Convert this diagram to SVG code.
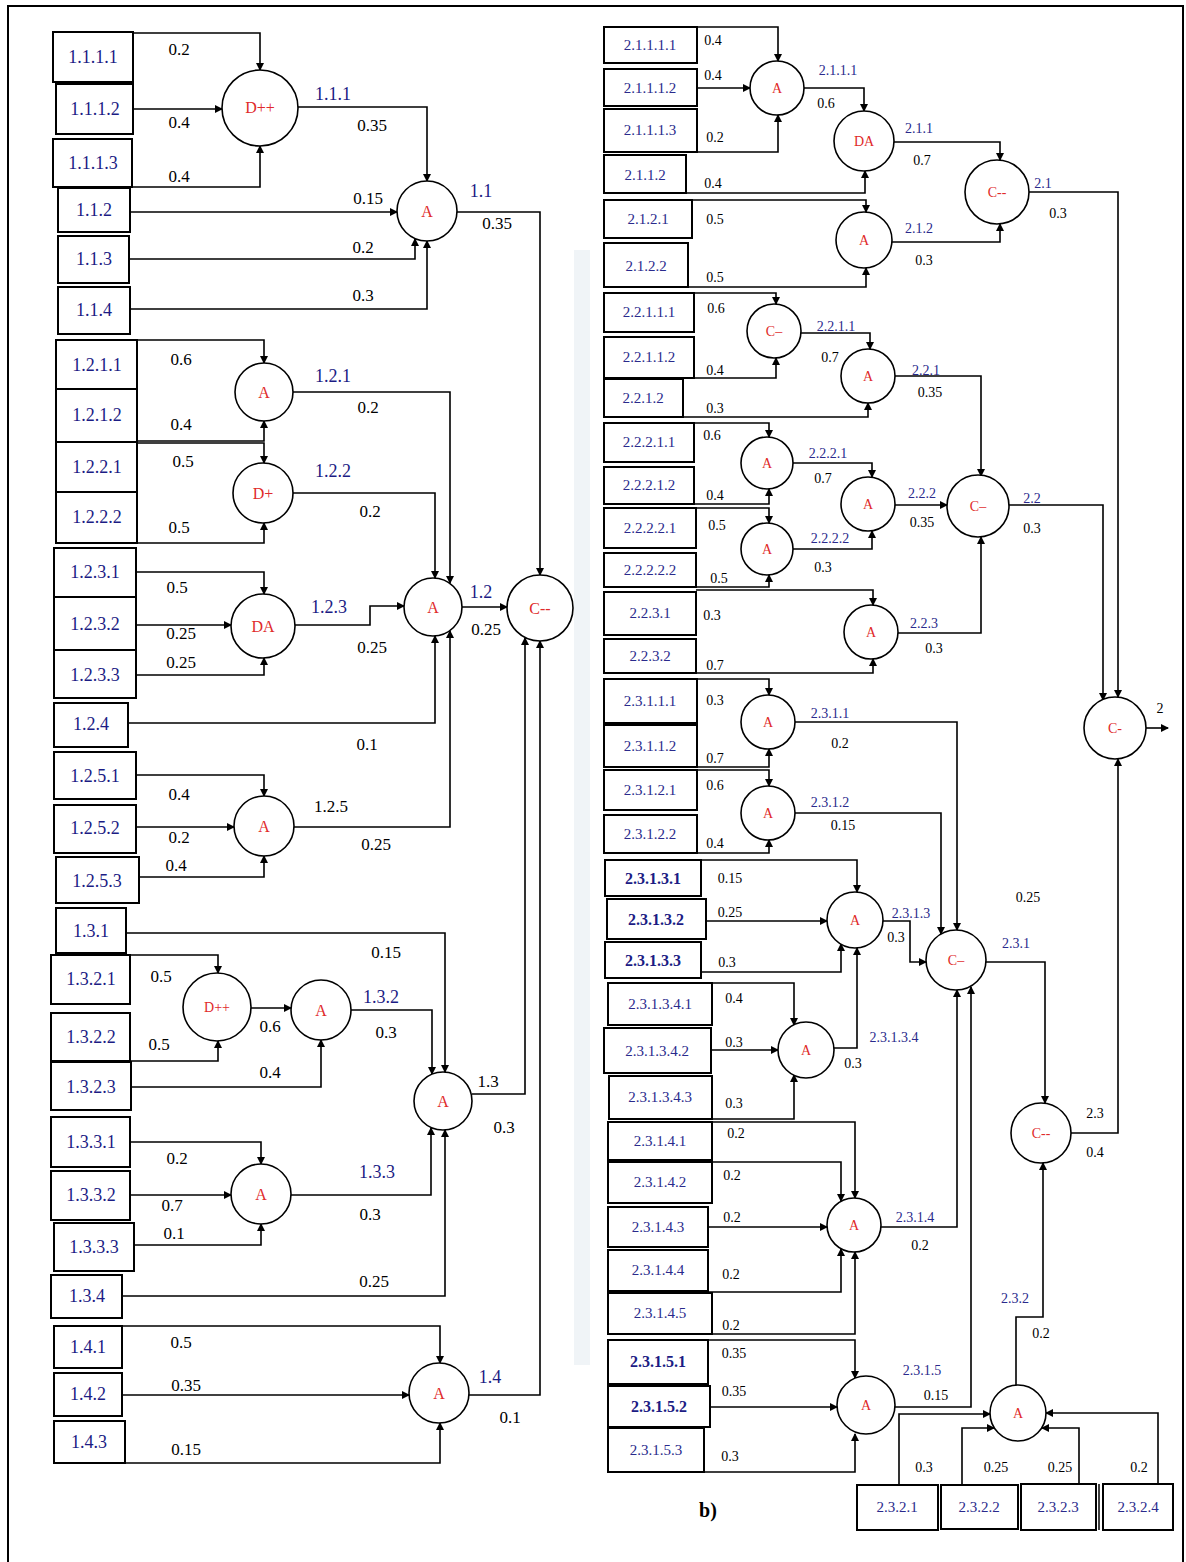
<svg xmlns="http://www.w3.org/2000/svg" width="1186" height="1562" viewBox="0 0 1186 1562">
<defs>
<marker id="ah" markerWidth="8" markerHeight="8" refX="7" refY="4" orient="auto" markerUnits="userSpaceOnUse"><path d="M0,0 L8,4 L0,8 z" fill="#000"/></marker>
<style>
.box{fill:#fff;stroke:#000;stroke-width:2}
.op{fill:#fff;stroke:#000;stroke-width:1.6}
.bt{font-family:"Liberation Serif",serif;font-size:18px;fill:#1c1c84;text-anchor:middle}
.bs{font-family:"Liberation Serif",serif;font-size:15px;fill:#2a2a8c;text-anchor:middle}
.bb{font-family:"Liberation Serif",serif;font-size:16px;fill:#1c1c84;text-anchor:middle;font-weight:bold}
.ot{font-family:"Liberation Serif",serif;font-size:16px;fill:#e02a2a;text-anchor:middle}
.os{font-family:"Liberation Serif",serif;font-size:14px;fill:#e02a2a;text-anchor:middle}
.w{font-family:"Liberation Serif",serif;font-size:17px;fill:#000;text-anchor:middle}
.ws{font-family:"Liberation Serif",serif;font-size:14px;fill:#000;text-anchor:middle}
.o{font-family:"Liberation Serif",serif;font-size:18px;fill:#1c1c84;text-anchor:middle}
.os2{font-family:"Liberation Serif",serif;font-size:14px;fill:#2a2a8c;text-anchor:middle}
.c{fill:none;stroke:#000;stroke-width:1.6;marker-end:url(#ah)}
</style>
</defs>
<rect x="0" y="0" width="1186" height="1562" fill="#fff"/>
<path d="M8,1562 V6 H1183 V1562" fill="none" stroke="#000" stroke-width="2"/>
<rect x="574" y="250" width="16" height="1115" fill="#e6ecf2" opacity="0.6"/>

<!-- LEFT boxes -->
<g id="b1111"><rect class="box" x="53" y="32" width="80" height="50"/><text class="bt" x="93" y="63">1.1.1.1</text></g>
<g id="b1112"><rect class="box" x="56" y="84" width="77" height="50"/><text class="bt" x="95" y="115">1.1.1.2</text></g>
<g id="b1113"><rect class="box" x="53" y="139" width="79" height="48"/><text class="bt" x="93" y="169">1.1.1.3</text></g>
<g id="b112"><rect class="box" x="58" y="188" width="72" height="44"/><text class="bt" x="94" y="216">1.1.2</text></g>
<g id="b113"><rect class="box" x="58" y="236" width="71" height="47"/><text class="bt" x="94" y="265">1.1.3</text></g>
<g id="b114"><rect class="box" x="58" y="287" width="72" height="47"/><text class="bt" x="94" y="316">1.1.4</text></g>
<g id="b1211"><rect class="box" x="56" y="340" width="81" height="49"/><text class="bt" x="97" y="371">1.2.1.1</text></g>
<g id="b1212"><rect class="box" x="56" y="389" width="81" height="53"/><text class="bt" x="97" y="421">1.2.1.2</text></g>
<g id="b1221"><rect class="box" x="56" y="442" width="81" height="50"/><text class="bt" x="97" y="473">1.2.2.1</text></g>
<g id="b1222"><rect class="box" x="56" y="492" width="81" height="51"/><text class="bt" x="97" y="523">1.2.2.2</text></g>
<g id="b1231"><rect class="box" x="54" y="548" width="82" height="49"/><text class="bt" x="95" y="578">1.2.3.1</text></g>
<g id="b1232"><rect class="box" x="54" y="597" width="82" height="53"/><text class="bt" x="95" y="630">1.2.3.2</text></g>
<g id="b1233"><rect class="box" x="54" y="650" width="82" height="48"/><text class="bt" x="95" y="681">1.2.3.3</text></g>
<g id="b124"><rect class="box" x="54" y="703" width="74" height="44"/><text class="bt" x="91" y="730">1.2.4</text></g>
<g id="b1251"><rect class="box" x="54" y="752" width="82" height="47"/><text class="bt" x="95" y="782">1.2.5.1</text></g>
<g id="b1252"><rect class="box" x="54" y="805" width="82" height="48"/><text class="bt" x="95" y="834">1.2.5.2</text></g>
<g id="b1253"><rect class="box" x="56" y="857" width="83" height="46"/><text class="bt" x="97" y="887">1.2.5.3</text></g>
<g id="b131"><rect class="box" x="56" y="908" width="70" height="45"/><text class="bt" x="91" y="937">1.3.1</text></g>
<g id="b1321"><rect class="box" x="51" y="955" width="79" height="49"/><text class="bt" x="91" y="985">1.3.2.1</text></g>
<g id="b1322"><rect class="box" x="51" y="1013" width="79" height="48"/><text class="bt" x="91" y="1043">1.3.2.2</text></g>
<g id="b1323"><rect class="box" x="51" y="1062" width="80" height="48"/><text class="bt" x="91" y="1093">1.3.2.3</text></g>
<g id="b1331"><rect class="box" x="51" y="1117" width="79" height="50"/><text class="bt" x="91" y="1148">1.3.3.1</text></g>
<g id="b1332"><rect class="box" x="51" y="1171" width="79" height="49"/><text class="bt" x="91" y="1201">1.3.3.2</text></g>
<g id="b1333"><rect class="box" x="54" y="1223" width="80" height="48"/><text class="bt" x="94" y="1253">1.3.3.3</text></g>
<g id="b134"><rect class="box" x="51" y="1275" width="71" height="43"/><text class="bt" x="87" y="1302">1.3.4</text></g>
<g id="b141"><rect class="box" x="54" y="1326" width="68" height="42"/><text class="bt" x="88" y="1353">1.4.1</text></g>
<g id="b142"><rect class="box" x="54" y="1373" width="68" height="43"/><text class="bt" x="88" y="1400">1.4.2</text></g>
<g id="b143"><rect class="box" x="54" y="1421" width="71" height="42"/><text class="bt" x="89" y="1448">1.4.3</text></g>

<!-- RIGHT boxes -->
<g id="b21111"><rect class="box" x="604" y="27" width="93" height="36"/><text class="bs" x="650" y="50">2.1.1.1.1</text></g>
<g id="b21112"><rect class="box" x="604" y="69" width="93" height="37"/><text class="bs" x="650" y="93">2.1.1.1.2</text></g>
<g id="b21113"><rect class="box" x="604" y="109" width="93" height="43"/><text class="bs" x="650" y="135">2.1.1.1.3</text></g>
<g id="b2112"><rect class="box" x="604" y="155" width="82" height="38"/><text class="bs" x="645" y="180">2.1.1.2</text></g>
<g id="b2121"><rect class="box" x="604" y="200" width="88" height="38"/><text class="bs" x="648" y="224">2.1.2.1</text></g>
<g id="b2122"><rect class="box" x="604" y="243" width="84" height="44"/><text class="bs" x="646" y="271">2.1.2.2</text></g>
<g id="b22111"><rect class="box" x="604" y="293" width="90" height="39"/><text class="bs" x="649" y="317">2.2.1.1.1</text></g>
<g id="b22112"><rect class="box" x="604" y="337" width="90" height="41"/><text class="bs" x="649" y="362">2.2.1.1.2</text></g>
<g id="b2212"><rect class="box" x="604" y="379" width="79" height="38"/><text class="bs" x="643" y="403">2.2.1.2</text></g>
<g id="b22211"><rect class="box" x="604" y="423" width="90" height="39"/><text class="bs" x="649" y="447">2.2.2.1.1</text></g>
<g id="b22212"><rect class="box" x="604" y="467" width="90" height="37"/><text class="bs" x="649" y="490">2.2.2.1.2</text></g>
<g id="b22221"><rect class="box" x="604" y="508" width="92" height="40"/><text class="bs" x="650" y="533">2.2.2.2.1</text></g>
<g id="b22222"><rect class="box" x="604" y="553" width="92" height="34"/><text class="bs" x="650" y="575">2.2.2.2.2</text></g>
<g id="b2231"><rect class="box" x="604" y="592" width="92" height="43"/><text class="bs" x="650" y="618">2.2.3.1</text></g>
<g id="b2232"><rect class="box" x="604" y="639" width="92" height="34"/><text class="bs" x="650" y="661">2.2.3.2</text></g>
<g id="b23111"><rect class="box" x="604" y="679" width="93" height="44"/><text class="bs" x="650" y="706">2.3.1.1.1</text></g>
<g id="b23112"><rect class="box" x="604" y="725" width="93" height="42"/><text class="bs" x="650" y="751">2.3.1.1.2</text></g>
<g id="b23121"><rect class="box" x="604" y="770" width="93" height="40"/><text class="bs" x="650" y="795">2.3.1.2.1</text></g>
<g id="b23122"><rect class="box" x="604" y="815" width="93" height="38"/><text class="bs" x="650" y="839">2.3.1.2.2</text></g>
<g id="b23131"><rect class="box" x="605" y="860" width="96" height="36"/><text class="bb" x="653" y="884">2.3.1.3.1</text></g>
<g id="b23132"><rect class="box" x="607" y="899" width="99" height="40"/><text class="bb" x="656" y="925">2.3.1.3.2</text></g>
<g id="b23133"><rect class="box" x="605" y="942" width="96" height="36"/><text class="bb" x="653" y="966">2.3.1.3.3</text></g>
<g id="b231341"><rect class="box" x="608" y="983" width="104" height="42"/><text class="bs" x="660" y="1009">2.3.1.3.4.1</text></g>
<g id="b231342"><rect class="box" x="604" y="1028" width="107" height="45"/><text class="bs" x="657" y="1056">2.3.1.3.4.2</text></g>
<g id="b231343"><rect class="box" x="609" y="1076" width="103" height="43"/><text class="bs" x="660" y="1102">2.3.1.3.4.3</text></g>
<g id="b23141"><rect class="box" x="608" y="1122" width="104" height="38"/><text class="bs" x="660" y="1146">2.3.1.4.1</text></g>
<g id="b23142"><rect class="box" x="608" y="1162" width="104" height="41"/><text class="bs" x="660" y="1187">2.3.1.4.2</text></g>
<g id="b23143"><rect class="box" x="608" y="1207" width="100" height="40"/><text class="bs" x="658" y="1232">2.3.1.4.3</text></g>
<g id="b23144"><rect class="box" x="608" y="1250" width="100" height="41"/><text class="bs" x="658" y="1275">2.3.1.4.4</text></g>
<g id="b23145"><rect class="box" x="608" y="1293" width="104" height="41"/><text class="bs" x="660" y="1318">2.3.1.4.5</text></g>
<g id="b23151"><rect class="box" x="608" y="1340" width="100" height="44"/><text class="bb" x="658" y="1367">2.3.1.5.1</text></g>
<g id="b23152"><rect class="box" x="608" y="1386" width="102" height="41"/><text class="bb" x="659" y="1412">2.3.1.5.2</text></g>
<g id="b23153"><rect class="box" x="608" y="1428" width="96" height="44"/><text class="bs" x="656" y="1455">2.3.1.5.3</text></g>
<g id="b2321"><rect class="box" x="857" y="1485" width="81" height="45"/><text class="bs" x="897" y="1512">2.3.2.1</text></g>
<g id="b2322"><rect class="box" x="941" y="1485" width="77" height="44"/><text class="bs" x="979" y="1512">2.3.2.2</text></g>
<g id="b2323"><rect class="box" x="1021" y="1484" width="75" height="46"/><text class="bs" x="1058" y="1512">2.3.2.3</text></g>
<g id="b2324"><rect class="box" x="1103" y="1484" width="70" height="46"/><text class="bs" x="1138" y="1512">2.3.2.4</text></g>
<line x1="1099" y1="1484" x2="1099" y2="1530" stroke="#000" stroke-width="1.5"/>

<!-- connectors -->
<g id="connectors">
<path class="c" d="M133,33 H260 V70"/>
<path class="c" d="M133,109 H222"/>
<path class="c" d="M132,187 H260 V146"/>
<path class="c" d="M298,107 H427 V181"/>
<path class="c" d="M130,212 H397"/>
<path class="c" d="M129,259 H415 V239"/>
<path class="c" d="M130,309 H427 V241"/>
<path class="c" d="M457,212 H540 V575"/>
<path class="c" d="M137,340 H264 V363"/>
<path class="c" d="M137,441 H264 V421"/>
<path class="c" d="M137,443 H264 V463"/>
<path class="c" d="M137,543 H264 V523"/>
<path class="c" d="M293,392 H450 V583"/>
<path class="c" d="M293,493 H435 V578"/>
<path class="c" d="M136,572 H264 V594"/>
<path class="c" d="M136,625 H231"/>
<path class="c" d="M136,675 H264 V658"/>
<path class="c" d="M295,625 H370 V606 H404"/>
<path class="c" d="M462,607 H507"/>
<path class="c" d="M128,723 H435 V636"/>
<path class="c" d="M136,775 H264 V796"/>
<path class="c" d="M136,827 H234"/>
<path class="c" d="M139,877 H264 V856"/>
<path class="c" d="M294,827 H450 V631"/>
<path class="c" d="M126,933 H445 V1072"/>
<path class="c" d="M130,955 H218 V973"/>
<path class="c" d="M130,1061 H218 V1041"/>
<path class="c" d="M251,1008 H291"/>
<path class="c" d="M131,1087 H321 V1040"/>
<path class="c" d="M351,1010 H432 V1074"/>
<path class="c" d="M472,1094 H525 V638"/>
<path class="c" d="M130,1142 H261 V1164"/>
<path class="c" d="M130,1195 H231"/>
<path class="c" d="M134,1245 H261 V1224"/>
<path class="c" d="M291,1195 H431 V1128"/>
<path class="c" d="M122,1296 H445 V1130"/>
<path class="c" d="M122,1326 H440 V1363"/>
<path class="c" d="M122,1395 H409"/>
<path class="c" d="M125,1463 H440 V1423"/>
<path class="c" d="M469,1395 H540 V641"/>

<path class="c" d="M697,27 H778 V61"/>
<path class="c" d="M697,88 H750"/>
<path class="c" d="M697,152 H778 V115"/>
<path class="c" d="M804,88 H864 V111"/>
<path class="c" d="M686,193 H865 V171"/>
<path class="c" d="M894,142 H1000 V160"/>
<path class="c" d="M692,200 H866 V212"/>
<path class="c" d="M688,287 H866 V268"/>
<path class="c" d="M892,242 H1000 V224"/>
<path class="c" d="M1029,192 H1118 V697"/>
<path class="c" d="M694,293 H776 V304"/>
<path class="c" d="M694,378 H776 V358"/>
<path class="c" d="M801,333 H870 V349"/>
<path class="c" d="M683,417 H868 V403"/>
<path class="c" d="M895,376 H981 V476"/>
<path class="c" d="M694,423 H769 V437"/>
<path class="c" d="M694,504 H769 V489"/>
<path class="c" d="M793,463 H872 V477"/>
<path class="c" d="M696,508 H769 V523"/>
<path class="c" d="M696,587 H769 V575"/>
<path class="c" d="M793,549 H872 V531"/>
<path class="c" d="M895,505 H947"/>
<path class="c" d="M696,590 H873 V605"/>
<path class="c" d="M696,673 H873 V659"/>
<path class="c" d="M898,633 H981 V537"/>
<path class="c" d="M1009,505 H1103 V700"/>
<path class="c" d="M697,679 H769 V695"/>
<path class="c" d="M697,767 H769 V749"/>
<path class="c" d="M795,722 H957 V930"/>
<path class="c" d="M697,770 H769 V786"/>
<path class="c" d="M697,853 H769 V840"/>
<path class="c" d="M795,813 H941 V934"/>
<path class="c" d="M701,860 H857 V892"/>
<path class="c" d="M706,921 H827"/>
<path class="c" d="M701,972 H841 V944"/>
<path class="c" d="M883,921 H910 V962 H926"/>
<path class="c" d="M986,962 H1045 V1103"/>
<path class="c" d="M712,983 H794 V1025"/>
<path class="c" d="M711,1050 H778"/>
<path class="c" d="M712,1119 H794 V1075"/>
<path class="c" d="M834,1048 H857 V948"/>
<path class="c" d="M712,1122 H855 V1198"/>
<path class="c" d="M712,1162 H841 V1201"/>
<path class="c" d="M708,1227 H827"/>
<path class="c" d="M708,1292 H841 V1249"/>
<path class="c" d="M712,1334 H855 V1252"/>
<path class="c" d="M881,1227 H957 V990"/>
<path class="c" d="M708,1340 H855 V1378"/>
<path class="c" d="M710,1407 H837"/>
<path class="c" d="M704,1472 H855 V1434"/>
<path class="c" d="M895,1407 H971 V987"/>
<path class="c" d="M1071,1133 H1118 V759"/>
<path class="c" d="M1016,1385 V1317 H1043 V1163"/>
<path class="c" d="M899,1485 V1414 H990"/>
<path class="c" d="M962,1484 V1428 H994"/>
<path class="c" d="M1079,1484 V1428 H1042"/>
<path class="c" d="M1158,1484 V1413 H1046"/>
<path class="c" d="M1146,728 H1168"/>

<!-- connector labels -->
<text class="w" x="179" y="55">0.2</text>
<text class="w" x="179" y="128">0.4</text>
<text class="w" x="179" y="182">0.4</text>
<text class="o" x="333" y="100">1.1.1</text>
<text class="w" x="372" y="131">0.35</text>
<text class="w" x="368" y="204">0.15</text>
<text class="w" x="363" y="253">0.2</text>
<text class="w" x="363" y="301">0.3</text>
<text class="o" x="481" y="197">1.1</text>
<text class="w" x="497" y="229">0.35</text>
<text class="w" x="181" y="365">0.6</text>
<text class="w" x="181" y="430">0.4</text>
<text class="w" x="183" y="467">0.5</text>
<text class="w" x="179" y="533">0.5</text>
<text class="o" x="333" y="382">1.2.1</text>
<text class="w" x="368" y="413">0.2</text>
<text class="o" x="333" y="477">1.2.2</text>
<text class="w" x="370" y="517">0.2</text>
<text class="w" x="177" y="593">0.5</text>
<text class="w" x="181" y="639">0.25</text>
<text class="w" x="181" y="668">0.25</text>
<text class="o" x="329" y="613">1.2.3</text>
<text class="w" x="372" y="653">0.25</text>
<text class="o" x="481" y="598">1.2</text>
<text class="w" x="486" y="635">0.25</text>
<text class="w" x="367" y="750">0.1</text>
<text class="w" x="179" y="800">0.4</text>
<text class="w" x="179" y="843">0.2</text>
<text class="w" x="176" y="871">0.4</text>
<text class="w" x="331" y="812">1.2.5</text>
<text class="w" x="376" y="850">0.25</text>
<text class="w" x="386" y="958">0.15</text>
<text class="w" x="161" y="982">0.5</text>
<text class="w" x="159" y="1050">0.5</text>
<text class="w" x="270" y="1032">0.6</text>
<text class="w" x="270" y="1078">0.4</text>
<text class="o" x="381" y="1003">1.3.2</text>
<text class="w" x="386" y="1038">0.3</text>
<text class="w" x="488" y="1087">1.3</text>
<text class="w" x="504" y="1133">0.3</text>
<text class="w" x="177" y="1164">0.2</text>
<text class="w" x="172" y="1211">0.7</text>
<text class="w" x="174" y="1239">0.1</text>
<text class="o" x="377" y="1178">1.3.3</text>
<text class="w" x="370" y="1220">0.3</text>
<text class="w" x="374" y="1287">0.25</text>
<text class="w" x="181" y="1348">0.5</text>
<text class="w" x="186" y="1391">0.35</text>
<text class="w" x="186" y="1455">0.15</text>
<text class="o" x="490" y="1383">1.4</text>
<text class="w" x="510" y="1423">0.1</text>

<text class="ws" x="713" y="45">0.4</text>
<text class="ws" x="713" y="80">0.4</text>
<text class="ws" x="715" y="142">0.2</text>
<text class="ws" x="713" y="188">0.4</text>
<text class="os2" x="838" y="75">2.1.1.1</text>
<text class="ws" x="826" y="108">0.6</text>
<text class="os2" x="919" y="133">2.1.1</text>
<text class="ws" x="922" y="165">0.7</text>
<text class="ws" x="715" y="224">0.5</text>
<text class="ws" x="715" y="282">0.5</text>
<text class="os2" x="919" y="233">2.1.2</text>
<text class="ws" x="924" y="265">0.3</text>
<text class="os2" x="1043" y="188">2.1</text>
<text class="ws" x="1058" y="218">0.3</text>
<text class="ws" x="716" y="313">0.6</text>
<text class="ws" x="715" y="375">0.4</text>
<text class="os2" x="836" y="331">2.2.1.1</text>
<text class="ws" x="830" y="362">0.7</text>
<text class="ws" x="715" y="413">0.3</text>
<text class="os2" x="926" y="375">2.2.1</text>
<text class="ws" x="930" y="397">0.35</text>
<text class="ws" x="712" y="440">0.6</text>
<text class="ws" x="715" y="500">0.4</text>
<text class="os2" x="828" y="458">2.2.2.1</text>
<text class="ws" x="823" y="483">0.7</text>
<text class="ws" x="717" y="530">0.5</text>
<text class="ws" x="719" y="583">0.5</text>
<text class="os2" x="830" y="543">2.2.2.2</text>
<text class="ws" x="823" y="572">0.3</text>
<text class="os2" x="922" y="498">2.2.2</text>
<text class="ws" x="922" y="527">0.35</text>
<text class="ws" x="712" y="620">0.3</text>
<text class="ws" x="715" y="670">0.7</text>
<text class="os2" x="924" y="628">2.2.3</text>
<text class="ws" x="934" y="653">0.3</text>
<text class="os2" x="1032" y="503">2.2</text>
<text class="ws" x="1032" y="533">0.3</text>
<text class="ws" x="715" y="705">0.3</text>
<text class="ws" x="715" y="763">0.7</text>
<text class="os2" x="830" y="718">2.3.1.1</text>
<text class="ws" x="840" y="748">0.2</text>
<text class="ws" x="715" y="790">0.6</text>
<text class="ws" x="715" y="848">0.4</text>
<text class="os2" x="830" y="807">2.3.1.2</text>
<text class="ws" x="843" y="830">0.15</text>
<text class="ws" x="730" y="883">0.15</text>
<text class="ws" x="730" y="917">0.25</text>
<text class="ws" x="727" y="967">0.3</text>
<text class="os2" x="911" y="918">2.3.1.3</text>
<text class="ws" x="896" y="942">0.3</text>
<text class="ws" x="1028" y="902">0.25</text>
<text class="os2" x="1016" y="948">2.3.1</text>
<text class="ws" x="734" y="1003">0.4</text>
<text class="ws" x="734" y="1047">0.3</text>
<text class="os2" x="894" y="1042">2.3.1.3.4</text>
<text class="ws" x="853" y="1068">0.3</text>
<text class="ws" x="734" y="1108">0.3</text>
<text class="ws" x="736" y="1138">0.2</text>
<text class="ws" x="732" y="1180">0.2</text>
<text class="ws" x="732" y="1222">0.2</text>
<text class="ws" x="731" y="1279">0.2</text>
<text class="ws" x="731" y="1330">0.2</text>
<text class="os2" x="915" y="1222">2.3.1.4</text>
<text class="ws" x="920" y="1250">0.2</text>
<text class="ws" x="734" y="1358">0.35</text>
<text class="ws" x="734" y="1396">0.35</text>
<text class="ws" x="730" y="1461">0.3</text>
<text class="os2" x="922" y="1375">2.3.1.5</text>
<text class="ws" x="936" y="1400">0.15</text>
<text class="ws" x="1095" y="1118">2.3</text>
<text class="ws" x="1095" y="1157">0.4</text>
<text class="os2" x="1015" y="1303">2.3.2</text>
<text class="ws" x="1041" y="1338">0.2</text>
<text class="ws" x="924" y="1472">0.3</text>
<text class="ws" x="996" y="1472">0.25</text>
<text class="ws" x="1060" y="1472">0.25</text>
<text class="ws" x="1139" y="1472">0.2</text>
<text class="ws" x="1160" y="713">2</text>
</g>

<!-- LEFT operators -->
<g id="n111"><circle class="op" cx="260" cy="108" r="38"/><text class="ot" x="260" y="113">D++</text></g>
<g id="n11"><circle class="op" cx="427" cy="211" r="30"/><text class="ot" x="427" y="217">A</text></g>
<g id="n121"><circle class="op" cx="264" cy="392" r="29"/><text class="ot" x="264" y="398">A</text></g>
<g id="n122"><circle class="op" cx="263" cy="493" r="30"/><text class="ot" x="263" y="499">D+</text></g>
<g id="n123"><circle class="op" cx="263" cy="626" r="32"/><text class="ot" x="263" y="632">DA</text></g>
<g id="n12"><circle class="op" cx="433" cy="607" r="29"/><text class="ot" x="433" y="613">A</text></g>
<g id="n1"><circle class="op" cx="540" cy="608" r="33"/><text class="ot" x="540" y="614">C--</text></g>
<g id="n125"><circle class="op" cx="264" cy="826" r="30"/><text class="ot" x="264" y="832">A</text></g>
<g id="n132d"><circle class="op" cx="217" cy="1007" r="34"/><text class="os" x="217" y="1012">D++</text></g>
<g id="n132"><circle class="op" cx="321" cy="1010" r="30"/><text class="ot" x="321" y="1016">A</text></g>
<g id="n13"><circle class="op" cx="443" cy="1101" r="29"/><text class="ot" x="443" y="1107">A</text></g>
<g id="n133"><circle class="op" cx="261" cy="1194" r="30"/><text class="ot" x="261" y="1200">A</text></g>
<g id="n14"><circle class="op" cx="439" cy="1393" r="30"/><text class="ot" x="439" y="1399">A</text></g>

<!-- RIGHT operators -->
<g id="n2111"><circle class="op" cx="777" cy="88" r="27"/><text class="os" x="777" y="93">A</text></g>
<g id="n211"><circle class="op" cx="864" cy="141" r="30"/><text class="os" x="864" y="146">DA</text></g>
<g id="n21"><circle class="op" cx="997" cy="192" r="32"/><text class="os" x="997" y="197">C--</text></g>
<g id="n212"><circle class="op" cx="864" cy="240" r="28"/><text class="os" x="864" y="245">A</text></g>
<g id="n2211"><circle class="op" cx="774" cy="331" r="27"/><text class="os" x="774" y="336">C–</text></g>
<g id="n221"><circle class="op" cx="868" cy="376" r="27"/><text class="os" x="868" y="381">A</text></g>
<g id="n2221"><circle class="op" cx="767" cy="463" r="26"/><text class="os" x="767" y="468">A</text></g>
<g id="n222"><circle class="op" cx="868" cy="504" r="27"/><text class="os" x="868" y="509">A</text></g>
<g id="n2222"><circle class="op" cx="767" cy="549" r="26"/><text class="os" x="767" y="554">A</text></g>
<g id="n22"><circle class="op" cx="978" cy="506" r="31"/><text class="os" x="978" y="511">C–</text></g>
<g id="n223"><circle class="op" cx="871" cy="632" r="27"/><text class="os" x="871" y="637">A</text></g>
<g id="n2"><circle class="op" cx="1115" cy="728" r="31"/><text class="os" x="1115" y="733">C-</text></g>
<g id="n2311"><circle class="op" cx="768" cy="722" r="27"/><text class="os" x="768" y="727">A</text></g>
<g id="n2312"><circle class="op" cx="768" cy="813" r="27"/><text class="os" x="768" y="818">A</text></g>
<g id="n2313"><circle class="op" cx="855" cy="920" r="28"/><text class="os" x="855" y="925">A</text></g>
<g id="n231"><circle class="op" cx="956" cy="960" r="30"/><text class="os" x="956" y="965">C–</text></g>
<g id="n23134"><circle class="op" cx="806" cy="1050" r="28"/><text class="os" x="806" y="1055">A</text></g>
<g id="n2314"><circle class="op" cx="854" cy="1225" r="27"/><text class="os" x="854" y="1230">A</text></g>
<g id="n23"><circle class="op" cx="1041" cy="1133" r="30"/><text class="os" x="1041" y="1138">C--</text></g>
<g id="n2315"><circle class="op" cx="866" cy="1405" r="29"/><text class="os" x="866" y="1410">A</text></g>
<g id="n232"><circle class="op" cx="1018" cy="1413" r="28"/><text class="os" x="1018" y="1418">A</text></g>

<text x="708" y="1517" font-family="Liberation Serif, serif" font-size="20" font-weight="bold" text-anchor="middle">b)</text>
</svg>
